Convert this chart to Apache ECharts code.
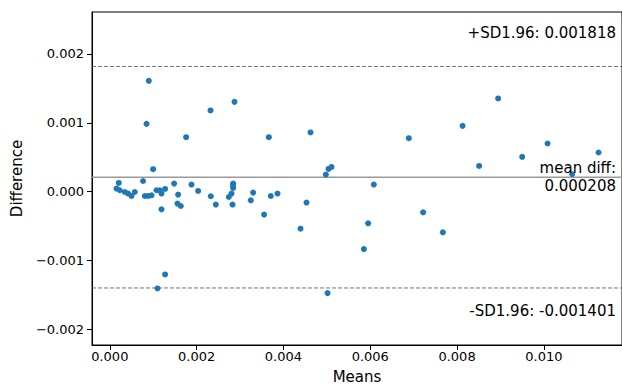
<!DOCTYPE html>
<html>
<head>
<meta charset="utf-8">
<script src="https://cdn.jsdelivr.net/npm/echarts@6/dist/echarts.min.js"></script>
<style>html,body{margin:0;padding:0;background:#fff}#c{width:622px;height:384px}</style>
</head>
<body>
<div id="c"></div>
<script>
// Bland-Altman data: means (x) and differences (y)
const means = [0.000899,0.000846,0.002320,0.002873,0.001758,0.003664,0.000998,0.000767,0.000207,0.000154,
  0.000230,0.000346,0.000422,0.000500,0.000576,0.000806,0.000882,0.000961,0.001076,0.001152,
  0.001191,0.001274,0.001191,0.001482,0.001574,0.001560,0.001636,0.001882,0.002035,0.002327,
  0.002442,0.002742,0.002804,0.002841,0.002841,0.002841,0.002827,0.003302,0.003249,0.003710,
  0.003864,0.003555,0.004532,0.004394,0.004624,0.004977,0.005039,0.005108,0.005016,0.006083,
  0.005952,0.005853,0.006889,0.007219,0.007673,0.008127,0.008509,0.008947,0.009500,0.010085,
  0.010652,0.011260,0.001274,0.001099];
const diffs = [0.001610,0.000984,0.001179,0.001304,0.000790,0.000790,0.000325,0.000154,0.000125,0.000044,
  0.000019,-0.000006,-0.000029,-0.000064,-0.000006,-0.000064,-0.000064,-0.000054,0.000019,0.000019,
  -0.000029,0.000038,-0.000258,0.000116,-0.000044,-0.000175,-0.000210,0.000102,0.000009,-0.000068,
  -0.000189,-0.000079,-0.000029,0.000116,0.000082,0.000052,-0.000189,-0.000015,-0.000127,-0.000064,
  -0.000029,-0.000335,-0.000160,-0.000539,0.000859,0.000247,0.000329,0.000358,-0.001476,0.000102,
  -0.000461,-0.000836,0.000776,-0.000301,-0.000592,0.000955,0.000373,0.001354,0.000504,0.000699,
  0.000252,0.000568,-0.001204,-0.001408];
const meanDiff = 0.000208;
const upperLimit = 0.001818;
const lowerLimit = -0.001401;
const xTicks = [0, 0.002, 0.004, 0.006, 0.008, 0.010];
const yTicks = [-0.002, -0.001, 0, 0.001, 0.002];
const xRange = [-0.00041, 0.0118];
const yRange = [-0.00223, 0.00261];

const FONT = "'DejaVu Sans', sans-serif";
const fmt = v => (v < 0 ? '\u2212' : '') + Math.abs(v).toFixed(3);
const hline = (y, style) => ({
  type: 'line', data: [[xRange[0], y], [xRange[1], y]], symbol: 'none', silent: true,
  lineStyle: style, z: 1, animation: false
});
const chart = echarts.init(document.getElementById('c'), null, {renderer: 'svg'});
chart.setOption({
  animation: false,
  backgroundColor: '#fff',
  grid: {left: 92, right: 0, top: 12, bottom: 39, outerBoundsMode: 'none', containLabel: false,
    show: true, borderColor: '#000', borderWidth: 1, backgroundColor: 'transparent'},
  xAxis: {
    type: 'value', min: xRange[0], max: xRange[1],
    name: 'Means', nameLocation: 'middle', nameGap: 24,
    nameTextStyle: {fontFamily: FONT, fontSize: 15, color: '#000'},
    splitLine: {show: false},
    axisLine: {show: true, onZero: false, lineStyle: {color: '#000', width: 1}},
    axisTick: {show: true, length: 5, lineStyle: {color: '#000'}, customValues: xTicks},
    axisLabel: {fontFamily: FONT, fontSize: 13, color: '#000', margin: 5, customValues: xTicks, formatter: fmt}
  },
  yAxis: {
    type: 'value', min: yRange[0], max: yRange[1],
    name: 'Difference', nameLocation: 'middle', nameGap: 61,
    nameTextStyle: {fontFamily: FONT, fontSize: 15, color: '#000'},
    splitLine: {show: false},
    axisLine: {show: true, onZero: false, lineStyle: {color: '#000', width: 1}},
    axisTick: {show: true, length: 5, lineStyle: {color: '#000'}, customValues: yTicks},
    axisLabel: {fontFamily: FONT, fontSize: 13, color: '#000', margin: 8, customValues: yTicks, formatter: fmt}
  },
  series: [
    hline(upperLimit, {color: '#666', width: 0.9, type: [4, 2]}),
    hline(lowerLimit, {color: '#666', width: 0.9, type: [4, 2]}),
    hline(meanDiff, {color: '#999', width: 1.3, type: 'solid'}),
    {
      type: 'scatter',
      symbolSize: 6,
      itemStyle: {color: '#1f77b4', opacity: 1},
      data: means.map((m, i) => [m, diffs[i]]),
      z: 3
    }
  ],
  graphic: [
    {type: 'text', right: 6, top: 25, z: 10, style: {text: '+SD1.96: ' + upperLimit.toFixed(6), font: '15px ' + FONT, fill: '#000'}},
    {type: 'text', right: 6, top: 160, z: 10, style: {text: 'mean diff:', font: '15px ' + FONT, fill: '#000'}},
    {type: 'text', right: 6, top: 178, z: 10, style: {text: meanDiff.toFixed(6), font: '15px ' + FONT, fill: '#000'}},
    {type: 'text', right: 6, top: 303, z: 10, style: {text: '-SD1.96: ' + lowerLimit.toFixed(6), font: '15px ' + FONT, fill: '#000'}}
  ]
});
</script>
</body>
</html>
